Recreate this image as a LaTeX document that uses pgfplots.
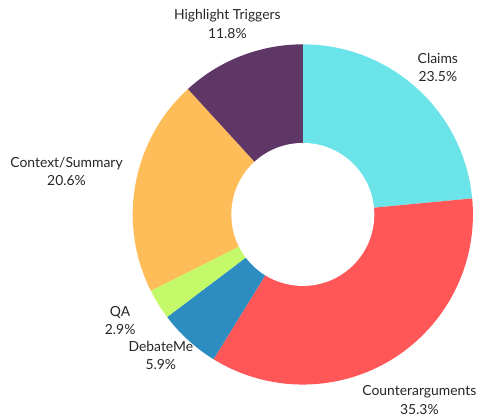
\documentclass[border=0pt]{standalone}
\usepackage{pgfplots}
\pgfplotsset{compat=1.18}
\usepackage{fontspec}
\setmainfont{Lato}

\definecolor{cClaims}{HTML}{6BE4E9}
\definecolor{cCounter}{HTML}{FF5757}
\definecolor{cDebate}{HTML}{2E8DC0}
\definecolor{cQA}{HTML}{C4FA6A}
\definecolor{cContext}{HTML}{FFBD59}
\definecolor{cHigh}{HTML}{5E3767}

% shares in percent, clockwise from 12 o'clock:
% Claims 23.5, Counterarguments 35.3, DebateMe 5.9, QA 2.9,
% Context/Summary 20.6, Highlight Triggers 11.8
\newcommand{\slice}[3]{% color, cum start, share
  \fill[#1] (axis cs:0,0) -- ([shift={({90-3.6*(#2)}:128.5pt)}]axis cs:0,0)
    arc[start angle={90-3.6*(#2)}, end angle={90-3.6*(#2+#3)}, radius=128.5pt] -- cycle;}

\begin{document}
\begin{tikzpicture}
\begin{axis}[
    x=0.75pt, y=0.75pt,
    xmin=-305, xmax=176,
    ymin=-207, ymax=216,
    hide axis, clip=false,
]
\path (rel axis cs:0,0) rectangle (rel axis cs:1,1);
\slice{cClaims}{0}{23.5}
\slice{cCounter}{23.5}{35.3}
\slice{cDebate}{58.8}{5.9}
\slice{cQA}{64.7}{2.9}
\slice{cContext}{67.6}{20.6}
\slice{cHigh}{88.2}{11.8}
\fill[white] (axis cs:0,0) circle[radius=54pt];

\tikzset{lbl/.style={align=center, font=\fontsize{10.5}{13.8}\selectfont, text=black!85, inner sep=0pt}}
\node[lbl] at (axis cs:136,148) {Claims\\23.5\%};
\node[lbl, anchor=east] at (axis cs:175,-187) {Counterarguments\\35.3\%};
\node[lbl] at (axis cs:-143,-142) {DebateMe\\5.9\%};
\node[lbl] at (axis cs:-184,-107) {QA\\2.9\%};
\node[lbl] at (axis cs:-238,43) {Context/Summary\\20.6\%};
\node[lbl] at (axis cs:-76,192) {Highlight Triggers\\11.8\%};
\end{axis}
\end{tikzpicture}
\end{document}
